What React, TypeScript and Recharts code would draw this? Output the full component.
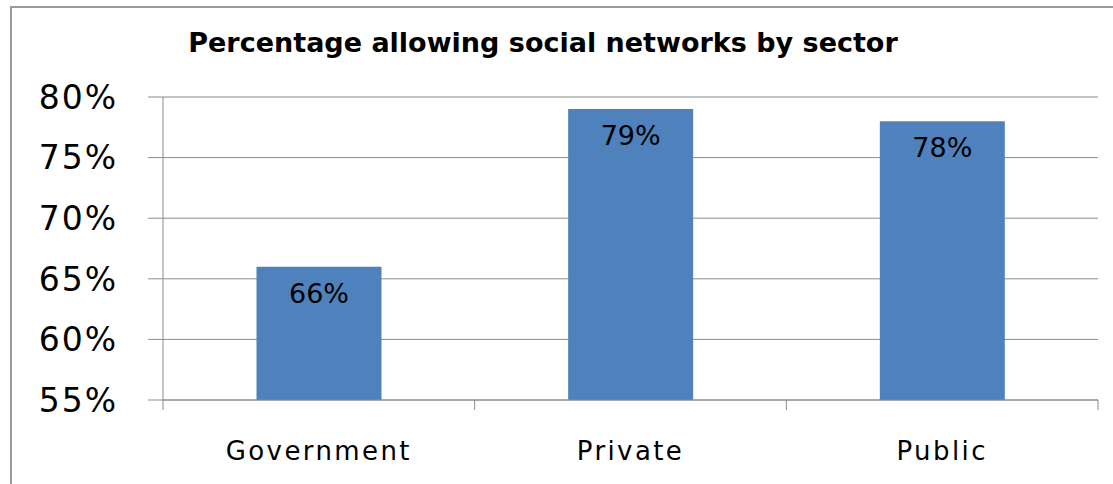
import { BarChart, Bar, XAxis, YAxis, CartesianGrid, LabelList } from "recharts";

const sectors = ["Government", "Private", "Public"];
const allowing = [66, 79, 78];
const yTicks = [55, 60, 65, 70, 75, 80];

const data = sectors.map((name, i) => ({ name, value: allowing[i] }));

const FONT = "'DejaVu Sans', Verdana, sans-serif";

const SectorTick = (props: any) => {
  const { x, y, payload, index, visibleTicksCount } = props;
  const half = payload.offset || 0;
  const axisY = y - 10;
  return (
    <g>
      <line x1={x - half} x2={x - half} y1={axisY} y2={axisY + 10} stroke="#8c8c8c" />
      {index === visibleTicksCount - 1 && (
        <line x1={x + half} x2={x + half} y1={axisY} y2={axisY + 10} stroke="#8c8c8c" />
      )}
      <text
        x={x}
        y={axisY + 60}
        textAnchor="middle"
        fill="#000"
        fontSize={26}
        letterSpacing={2.4}
        fontFamily={FONT}
      >
        {payload.value}
      </text>
    </g>
  );
};

export default function App() {
  return (
    <div style={{ position: "absolute", left: 0, top: 0, width: 1113, height: 484, overflow: "hidden", background: "#fff" }}>
      <div
        style={{
          position: "absolute",
          left: 10,
          top: 6,
          width: 1130,
          height: 520,
          borderTop: "2px solid #9a9a9a",
          borderLeft: "2px solid #9a9a9a",
        }}
      />
      <div
        style={{
          position: "absolute",
          left: 0,
          width: 1086,
          top: 27,
          textAlign: "center",
          fontFamily: FONT,
          fontWeight: "bold",
          fontSize: 27,
          color: "#000",
        }}
      >
        Percentage allowing social networks by sector
      </div>
      <div style={{ position: "absolute", left: 0, top: 0 }}>
        <BarChart
          width={1113}
          height={484}
          data={data}
          margin={{ top: 97, right: 15, bottom: 0, left: 0 }}
          barCategoryGap="30%"
        >
          <CartesianGrid vertical={false} stroke="#8c8c8c" />
          <XAxis
            dataKey="name"
            height={84}
            tickLine={false}
            tickSize={10}
            tickMargin={0}
            axisLine={{ stroke: "#8c8c8c" }}
            tick={<SectorTick />}
            interval={0}
          />
          <YAxis
            width={163}
            domain={[55, 80]}
            ticks={yTicks}
            allowDataOverflow
            tickSize={15}
            tickMargin={30}
            tickLine={{ stroke: "#8c8c8c" }}
            axisLine={{ stroke: "#8c8c8c" }}
            tickFormatter={(v: number) => `${v}%`}
            tick={{ fill: "#000", fontSize: 33, fontFamily: FONT, letterSpacing: 2 }}
          />
          <Bar dataKey="value" fill="#4f81bd" isAnimationActive={false}>
            <LabelList
              dataKey="value"
              position="insideTop"
              offset={17}
              formatter={(v: any) => `${v}%`}
              style={{ fill: "#000", fontSize: 27, fontFamily: FONT }}
            />
          </Bar>
        </BarChart>
      </div>
    </div>
  );
}
